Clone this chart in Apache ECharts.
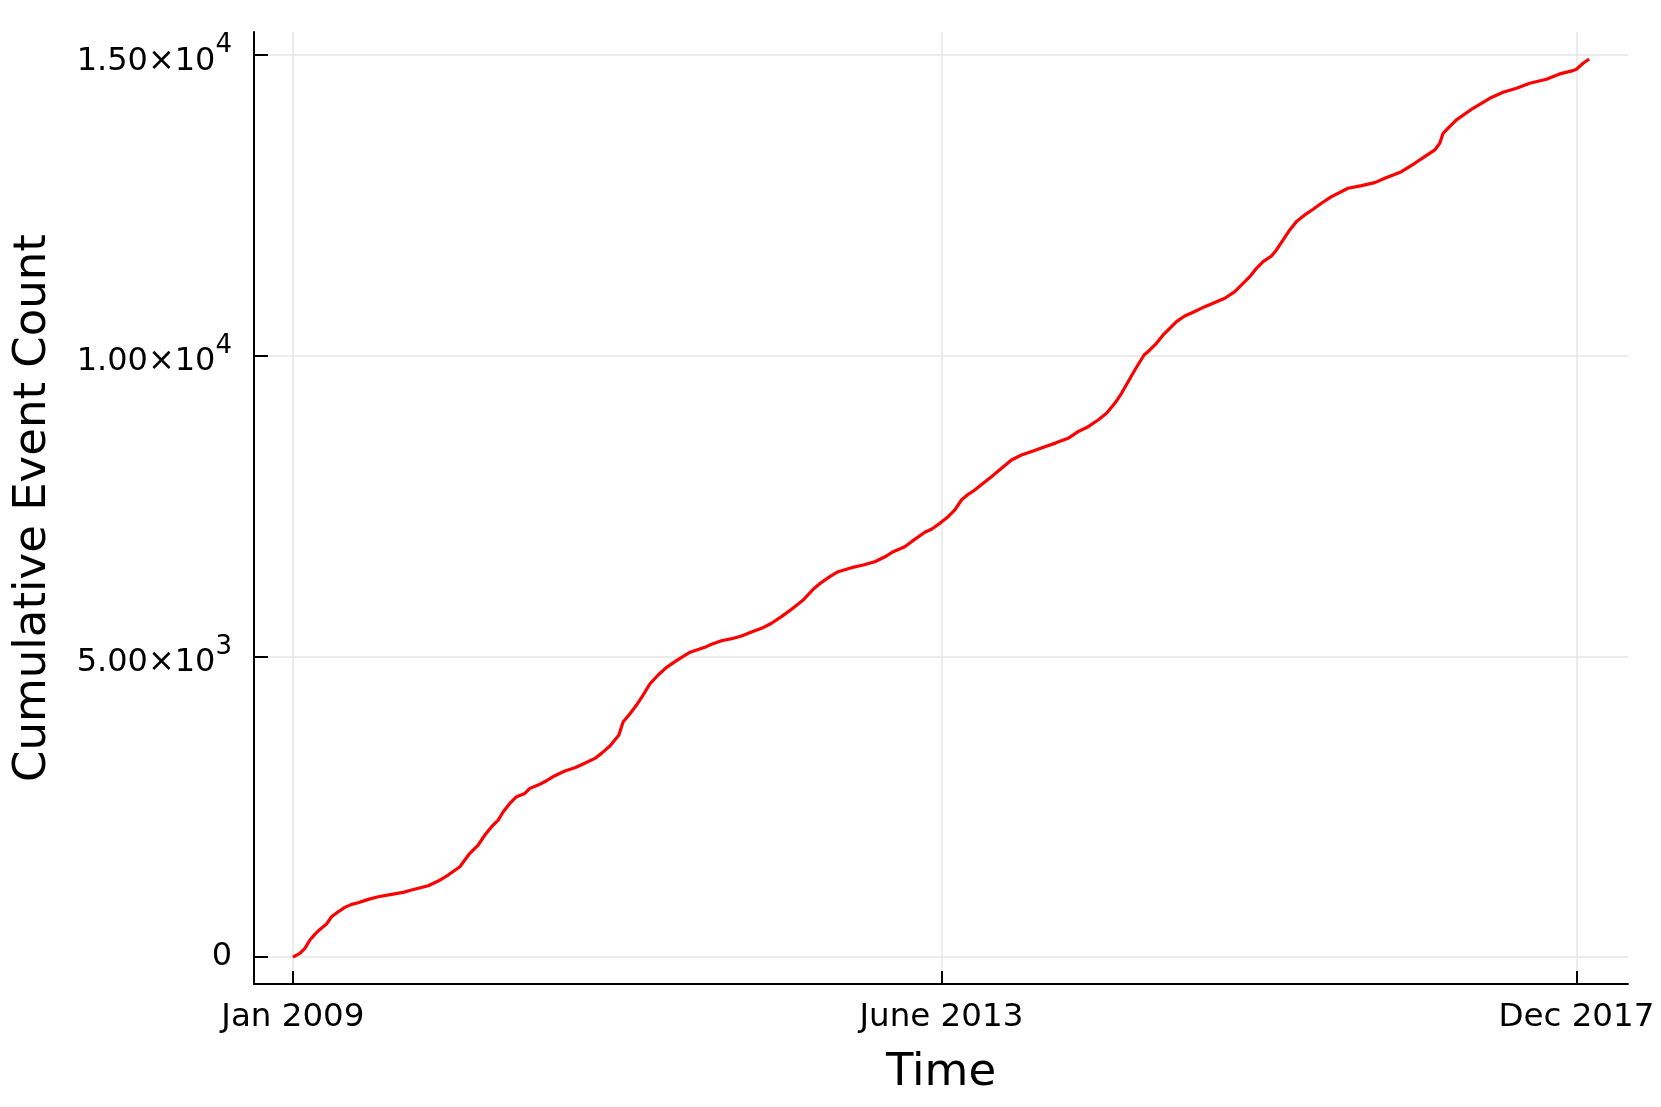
<!DOCTYPE html>
<html>
<head>
<meta charset="utf-8">
<script src="https://cdn.jsdelivr.net/npm/echarts@6/dist/echarts.min.js"></script>
<style>
  html, body { margin: 0; padding: 0; background: #ffffff; }
  #chart { width: 1661px; height: 1107px; }
</style>
</head>
<body>
<div id="chart"></div>
<script>
// x = months since Jan 2009, y = cumulative event count
const eventMonths = [
  0, 0.58, 1.0, 1.42, 1.83, 2.25, 2.8, 3.22, 3.78, 4.33, 4.89, 5.44, 6.28, 7.11, 8.22, 9.19, 9.89,
  11.28, 12.11, 12.94, 13.92, 14.33, 14.75, 15.44, 16.0, 16.56, 17.11,
  17.53, 18.08, 18.64, 19.33, 19.75, 20.44, 21.14, 21.83, 22.67, 23.5, 24.19, 25.17, 25.72, 26.42,
  27.17, 27.39, 27.53, 28.08, 28.64, 29.19, 29.75, 30.44, 31.14, 31.97, 33.1,
  34.33, 34.89, 35.72, 36.56, 37.39, 38.22, 39.06, 39.89, 40.72, 41.56, 42.53, 43.36, 44.06, 44.75,
  45.44, 46.56, 47.53, 48.5, 49.47, 50.03, 51.0, 51.56,
  52.67, 53.22, 53.92, 54.61, 55.17, 55.72, 56.28, 56.83, 57.53, 58.22, 59.06, 59.89, 60.72, 61.69,
  62.67, 63.6, 64.61, 65.44, 66.28, 67.11, 67.81, 68.5, 69.06, 69.61, 70.17, 70.94,
  71.42, 71.97, 72.53, 73.08, 73.64, 74.33, 75.03, 76.0, 76.69, 77.67, 78.5,
  79.75, 80.31, 80.86, 81.56, 81.97, 82.53, 83.08, 83.64, 84.33, 85.03, 85.72, 86.56,
  87.94, 89.06, 90.17, 91.0, 92.39, 93.5, 94.33, 95.17, 95.58, 95.86, 96.28, 96.97,
  98.36, 99.75, 100.86, 101.98, 103.08, 104.47, 105.58, 106.69, 106.97, 107.53, 108.03
];
const eventCounts = [
  0, 61, 145, 283, 377, 460, 549, 670, 753, 826, 876, 903, 959, 1003, 1043, 1076, 1114,
  1186, 1264, 1364, 1502, 1613, 1725, 1863, 2029, 2167, 2278,
  2416, 2555, 2666, 2721, 2805, 2860, 2932, 3015, 3093, 3148, 3210, 3303, 3387, 3509,
  3692, 3830, 3913, 4041, 4191, 4357, 4540, 4690, 4818, 4928, 5070,
  5150, 5200, 5260, 5294, 5339, 5405, 5466, 5550, 5661, 5783, 5937, 6115, 6231, 6325,
  6408, 6475, 6519, 6574, 6669, 6741, 6824, 6907,
  7063, 7113, 7212, 7323, 7434, 7600, 7695, 7766, 7878, 7988, 8127, 8265, 8349, 8415,
  8487, 8550, 8626, 8736, 8819, 8930, 9042, 9208, 9374, 9567, 9762, 10011,
  10095, 10206, 10344, 10455, 10566, 10660, 10721, 10815, 10871, 10954, 11065,
  11314, 11453, 11564, 11658, 11758, 11924, 12091, 12229, 12340, 12434, 12534, 12645,
  12783, 12827, 12877, 12950, 13060, 13199, 13310, 13421, 13532, 13698, 13782, 13920,
  14114, 14280, 14380, 14446, 14530, 14596, 14685, 14740, 14763, 14863, 14934
];

const xTickValues = [0, 54.05, 106.97];
const xTickLabels = ['Jan 2009', 'June 2013', 'Dec 2017'];

const yTickValues = [0, 5000, 10000, 15000];
const yTickMantissa = ['0', '5.00', '1.00', '1.50'];
const yTickExponent = ['', '3', '4', '4'];

const xTitle = 'Time';
const yTitle = 'Cumulative Event Count';

const seriesData = eventMonths.map((m, i) => [m, eventCounts[i]]);

// Julia Plots style: 3% padding around the data range
const xDataMin = Math.min(...eventMonths), xDataMax = Math.max(...eventMonths);
const yDataMin = Math.min(...eventCounts), yDataMax = Math.max(...eventCounts);
const xPad = 0.03 * (xDataMax - xDataMin), yPad = 0.03 * (yDataMax - yDataMin);

const FONT = 'DejaVu Sans';

const chart = echarts.init(document.getElementById('chart'), null, { renderer: 'canvas' });
chart.setOption({
  animation: false,
  backgroundColor: '#ffffff',
  textStyle: { fontFamily: FONT },
  grid: { left: 254, right: 33, top: 32, bottom: 123, containLabel: false, outerBoundsMode: 'none' },
  xAxis: {
    type: 'value',
    min: xDataMin - xPad,
    max: xDataMax + xPad,
    name: xTitle,
    nameLocation: 'middle',
    nameGap: 67,
    nameTextStyle: { fontFamily: FONT, fontSize: 45, color: '#000' },
    axisLine: { show: true, onZero: false, lineStyle: { color: '#000', width: 2 } },
    axisTick: { show: true, inside: true, length: 13, customValues: xTickValues, lineStyle: { color: '#000', width: 2 } },
    axisLabel: {
      show: true, margin: 17, fontFamily: FONT, fontSize: 32.5, color: '#000',
      customValues: xTickValues,
      formatter: v => {
        const i = xTickValues.findIndex(t => Math.abs(t - v) < 1e-6);
        return i >= 0 ? xTickLabels[i] : '';
      }
    },
    splitLine: { show: true, lineStyle: { color: '#e6e6e6', width: 1.5 } }
  },
  yAxis: {
    type: 'value',
    min: yDataMin - yPad,
    max: yDataMax + yPad,
    name: yTitle,
    nameLocation: 'middle',
    nameGap: 198,
    nameTextStyle: { fontFamily: FONT, fontSize: 45, color: '#000' },
    axisLine: { show: true, onZero: false, lineStyle: { color: '#000', width: 2 } },
    axisTick: { show: true, inside: true, length: 14, customValues: yTickValues, lineStyle: { color: '#000', width: 2 } },
    axisLabel: {
      show: true, margin: 22, color: '#000',
      customValues: yTickValues,
      formatter: v => {
        const i = yTickValues.findIndex(t => Math.abs(t - v) < 1e-6);
        if (i < 0) return '';
        if (!yTickExponent[i]) return '{z|' + yTickMantissa[i] + '}';
        return '{b|' + yTickMantissa[i] + '×10}{s|' + yTickExponent[i] + '}';
      },
      rich: {
        z: { fontFamily: FONT, fontSize: 32, color: '#000' },
        b: { fontFamily: FONT, fontSize: 32, lineHeight: 45, verticalAlign: 'bottom', color: '#000' },
        s: { fontFamily: FONT, fontSize: 26, lineHeight: 45, verticalAlign: 'top', color: '#000' }
      }
    },
    splitLine: { show: true, lineStyle: { color: '#e6e6e6', width: 1.5 } }
  },
  series: [{
    type: 'line',
    data: seriesData,
    showSymbol: false,
    symbol: 'none',
    smooth: false,
    z: 5,
    lineStyle: { color: '#ff0000', width: 3.2 },
    itemStyle: { color: '#ff0000' }
  }]
});
</script>
</body>
</html>
